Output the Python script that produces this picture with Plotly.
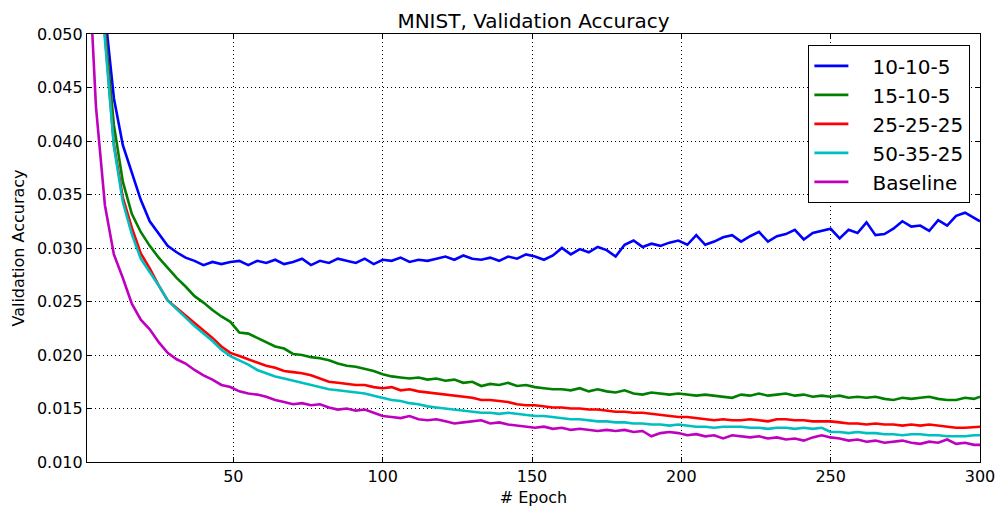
import plotly.graph_objects as go

epochs = list(range(1, 301, 3)) + [300]

s_10_10_5 = [
    0.090, 0.068, 0.052, 0.0440, 0.0396, 0.0370, 0.0345, 0.0325, 0.0313, 0.0302,
    0.0296, 0.0291, 0.0288, 0.0284, 0.0287, 0.0285, 0.0287, 0.0288, 0.0284, 0.0288,
    0.0286, 0.0289, 0.0285, 0.0287, 0.0290, 0.0284, 0.0288, 0.0286, 0.0290, 0.0288,
    0.0286, 0.0290, 0.0285, 0.0289, 0.0288, 0.0291, 0.0287, 0.0289, 0.0288, 0.0290,
    0.0292, 0.0289, 0.0293, 0.0290, 0.0289, 0.0291, 0.0288, 0.0292, 0.0290, 0.0294,
    0.0292, 0.0289, 0.0293, 0.0300, 0.0294, 0.0299, 0.0296, 0.0301, 0.0298, 0.0292,
    0.0303, 0.0307, 0.0301, 0.0304, 0.0302, 0.0305, 0.0307, 0.0303, 0.0312, 0.0303,
    0.0306, 0.0310, 0.0312, 0.0306, 0.0311, 0.0315, 0.0306, 0.0311, 0.0313, 0.0317,
    0.0308, 0.0314, 0.0316, 0.0318, 0.0309, 0.0317, 0.0314, 0.0324, 0.0312, 0.0313,
    0.0318, 0.0325, 0.0320, 0.0321, 0.0316, 0.0326, 0.0321, 0.0330, 0.0333, 0.0328,
    0.0325,
]

s_15_10_5 = [
    0.085, 0.062, 0.0505, 0.0415, 0.0362, 0.0332, 0.0315, 0.0302, 0.0291, 0.0281,
    0.0272, 0.0264, 0.0255, 0.0249, 0.0242, 0.0236, 0.0231, 0.0221, 0.0220, 0.0216,
    0.0212, 0.0208, 0.0206, 0.0201, 0.0200, 0.0198, 0.0197, 0.0195, 0.0192, 0.0190,
    0.0189, 0.0187, 0.0185, 0.0182, 0.0180, 0.0179, 0.0178, 0.0179, 0.0177, 0.0178,
    0.0176, 0.0177, 0.0174, 0.0175, 0.0171, 0.0173, 0.0172, 0.0174, 0.0171, 0.0172,
    0.0170, 0.0169, 0.0168, 0.0168, 0.0167, 0.0169, 0.0166, 0.0168, 0.0166, 0.0165,
    0.0167, 0.0164, 0.0163, 0.0165, 0.0164, 0.0163, 0.0164, 0.0163, 0.0162, 0.0163,
    0.0162, 0.0161, 0.0160, 0.0163, 0.0162, 0.0164, 0.0162, 0.0163, 0.0164, 0.0162,
    0.0163, 0.0161, 0.0162, 0.0161, 0.0162, 0.0160, 0.0161, 0.0160, 0.0161, 0.0159,
    0.0158, 0.0160, 0.0159, 0.0160, 0.0161, 0.0159, 0.0158, 0.0158, 0.0160, 0.0159,
    0.0161,
]

s_25_25_25 = [
    0.085, 0.060, 0.0500, 0.0397, 0.0347, 0.0319, 0.0295, 0.0281, 0.0265, 0.0251,
    0.0244, 0.0237, 0.0230, 0.0223, 0.0216, 0.0208, 0.0202, 0.0199, 0.0196, 0.0193,
    0.0190, 0.0188, 0.0185, 0.0184, 0.0183, 0.0181, 0.0178, 0.0175, 0.0174, 0.0173,
    0.0172, 0.0172, 0.0170, 0.0169, 0.0170, 0.0167, 0.0168, 0.0166, 0.0165, 0.0164,
    0.0163, 0.0162, 0.0161, 0.0160, 0.0158, 0.0158, 0.0157, 0.0156, 0.0154, 0.0153,
    0.0153, 0.0152, 0.0151, 0.0151, 0.0150, 0.0150, 0.0149, 0.0149, 0.0148, 0.0147,
    0.0147, 0.0146, 0.0146, 0.0145, 0.0144, 0.0143, 0.0142, 0.0142, 0.0141, 0.0140,
    0.0139, 0.0140, 0.0139, 0.0139, 0.0140, 0.0139, 0.0138, 0.0140, 0.0140, 0.0139,
    0.0139, 0.0138, 0.0138, 0.0138, 0.0137, 0.0136, 0.0136, 0.0135, 0.0136, 0.0135,
    0.0135, 0.0134, 0.0135, 0.0134, 0.0135, 0.0134, 0.0133, 0.0132, 0.0132, 0.0133,
    0.0133,
]

s_50_35_25 = [
    0.085, 0.060, 0.0495, 0.0395, 0.0343, 0.0313, 0.0290, 0.0278, 0.0265, 0.0251,
    0.0243, 0.0235, 0.0227, 0.0220, 0.0213, 0.0205, 0.0199, 0.0195, 0.0191, 0.0186,
    0.0183, 0.0180, 0.0178, 0.0176, 0.0174, 0.0172, 0.0170, 0.0168, 0.0167, 0.0166,
    0.0165, 0.0164, 0.0162, 0.0160, 0.0158, 0.0157, 0.0155, 0.0154, 0.0152, 0.0151,
    0.0150, 0.0149, 0.0148, 0.0147, 0.0146, 0.0146, 0.0145, 0.0146, 0.0145, 0.0144,
    0.0143, 0.0143, 0.0142, 0.0141, 0.0140, 0.0140, 0.0139, 0.0138, 0.0138, 0.0137,
    0.0137, 0.0136, 0.0136, 0.0135, 0.0135, 0.0134, 0.0135, 0.0134, 0.0133, 0.0133,
    0.0132, 0.0133, 0.0133, 0.0133, 0.0132, 0.0132, 0.0131, 0.0132, 0.0132, 0.0131,
    0.0132, 0.0131, 0.0132, 0.0128, 0.0128, 0.0127, 0.0128, 0.0127, 0.0127, 0.0126,
    0.0126, 0.0125, 0.0126, 0.0126, 0.0125, 0.0125, 0.0124, 0.0124, 0.0124, 0.0125,
    0.0125,
]

s_baseline = [
    0.060, 0.0432, 0.0340, 0.0294, 0.0272, 0.0248, 0.0233, 0.0224, 0.0212, 0.0202,
    0.0196, 0.0192, 0.0186, 0.0181, 0.0177, 0.0172, 0.0170, 0.0166, 0.0164, 0.0163,
    0.0161, 0.0158, 0.0156, 0.0154, 0.0155, 0.0153, 0.0154, 0.0151, 0.0149, 0.0150,
    0.0148, 0.0149, 0.0146, 0.0143, 0.0142, 0.0141, 0.0143, 0.0140, 0.0139, 0.0140,
    0.0138, 0.0136, 0.0137, 0.0138, 0.0139, 0.0136, 0.0137, 0.0135, 0.0134, 0.0133,
    0.0132, 0.0133, 0.0131, 0.0132, 0.0130, 0.0131, 0.0130, 0.0129, 0.0130, 0.0129,
    0.0130, 0.0128, 0.0129, 0.0124, 0.0127, 0.0128, 0.0127, 0.0125, 0.0126, 0.0124,
    0.0125, 0.0122, 0.0125, 0.0124, 0.0123, 0.0124, 0.0122, 0.0123, 0.0121, 0.0122,
    0.0120, 0.0123, 0.0125, 0.0123, 0.0122, 0.0120, 0.0121, 0.0119, 0.0120, 0.0118,
    0.0119, 0.0120, 0.0118, 0.0117, 0.0119, 0.0118, 0.0121, 0.0117, 0.0118, 0.0116,
    0.0116,
]

series_names = ["10-10-5", "15-10-5", "25-25-25", "50-35-25", "Baseline"]
series_values = [s_10_10_5, s_15_10_5, s_25_25_25, s_50_35_25, s_baseline]
series_colors = ["#0000ff", "#008000", "#ff0000", "#00bfbf", "#bf00bf"]

x_ticks = [50, 100, 150, 200, 250, 300]
y_ticks = [0.010, 0.015, 0.020, 0.025, 0.030, 0.035, 0.040, 0.045, 0.050]

FONT = "DejaVu Sans"
PAD = "\u00a0\u00a0\u00a0"

fig = go.Figure()
for name, vals, col in zip(series_names, series_values, series_colors):
    fig.add_trace(go.Scatter(
        x=epochs, y=vals, mode="lines", name=PAD + name,
        line=dict(color=col, width=2.6),
    ))

axis_common = dict(
    showline=True, linecolor="black", linewidth=1.2, mirror="ticks",
    ticks="inside", ticklen=5, tickcolor="black", tickwidth=1,
    showgrid=True, gridcolor="black", gridwidth=1, griddash="1px,3px",
    zeroline=False, automargin=False,
    tickfont=dict(family=FONT, size=16, color="black"),
)

fig.update_xaxes(
    range=[1, 300], tickvals=x_ticks, ticktext=[str(v) for v in x_ticks],
    title=dict(text="# Epoch", font=dict(family=FONT, size=16, color="black"), standoff=6),
    **axis_common,
)
fig.update_yaxes(
    range=[0.010, 0.050], tickvals=y_ticks, ticktext=[f"{v:.3f}" for v in y_ticks],
    title=dict(text="Validation Accuracy", font=dict(family=FONT, size=16, color="black"), standoff=8),
    **axis_common,
)

fig.update_layout(
    width=1000, height=507,
    margin=dict(l=87, r=20, t=34, b=45),
    paper_bgcolor="white", plot_bgcolor="white",
    font=dict(family=FONT, color="black"),
    title=dict(text="MNIST, Validation Accuracy", x=0.5, xanchor="center",
               xref="paper", yref="container", y=0.958, yanchor="middle",
               font=dict(family=FONT, size=20, color="black")),
    showlegend=True,
    legend=dict(
        x=0.989, y=0.974, xanchor="right", yanchor="top",
        bgcolor="white", bordercolor="black", borderwidth=1.2,
        font=dict(family=FONT, size=20, color="black"),
        itemwidth=34,
    ),
)

fig.write_html(
    "out.html",
    config={"displayModeBar": False},
    post_script="document.body.style.margin='0';document.body.style.padding='0';",
)
